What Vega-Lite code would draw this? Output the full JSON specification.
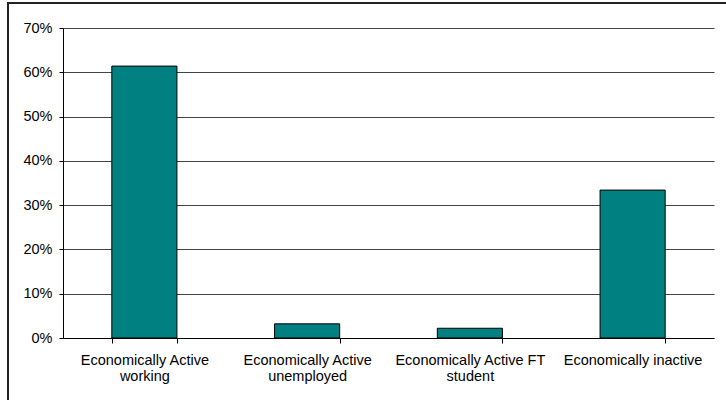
{
  "$schema": "https://vega.github.io/schema/vega-lite/v6.json",
  "autosize": "none",
  "padding": {"left": 8, "top": 3, "right": -3, "bottom": -3},
  "width": 721,
  "height": 400,
  "background": "white",
  "config": {
    "view": {"stroke": "#222", "strokeWidth": 2},
    "font": "Liberation Sans"
  },
  "data": {
    "values": [
      {"category": "Economically Active working", "share": 0.614},
      {"category": "Economically Active unemployed", "share": 0.032},
      {"category": "Economically Active FT student", "share": 0.022},
      {"category": "Economically inactive", "share": 0.334}
    ]
  },
  "mark": {"type": "bar", "fill": "#008080", "stroke": "#000", "strokeWidth": 1},
  "encoding": {
    "x": {
      "field": "category",
      "type": "nominal",
      "sort": null,
      "scale": {"range": [55, 706], "paddingInner": 0.6, "paddingOuter": 0.3},
      "axis": {
        "title": null,
        "offset": -65,
        "labelAngle": 0,
        "labelFont": "Liberation Sans",
        "labelFontSize": 14.5,
        "labelColor": "#000",
        "labelPadding": 10,
        "labelExpr": "datum.label == 'Economically Active working' ? ['Economically Active', 'working'] : datum.label == 'Economically Active unemployed' ? ['Economically Active', 'unemployed'] : datum.label == 'Economically Active FT student' ? ['Economically Active FT', 'student'] : datum.label",
        "tickBand": "extent",
        "tickSize": 5,
        "tickColor": "#000",
        "domainColor": "#000",
        "grid": false
      }
    },
    "y": {
      "field": "share",
      "type": "quantitative",
      "scale": {"domain": [0, 0.7], "range": [335, 25], "nice": false},
      "axis": {
        "title": null,
        "offset": -55,
        "format": ".0%",
        "values": [0, 0.1, 0.2, 0.3, 0.4, 0.5, 0.6, 0.7],
        "labelFont": "Liberation Sans",
        "labelFontSize": 14.5,
        "labelColor": "#000",
        "labelPadding": 7,
        "tickSize": 4,
        "tickColor": "#000",
        "domainColor": "#000",
        "grid": true,
        "gridColor": "#444",
        "gridOpacity": 1
      }
    }
  }
}
